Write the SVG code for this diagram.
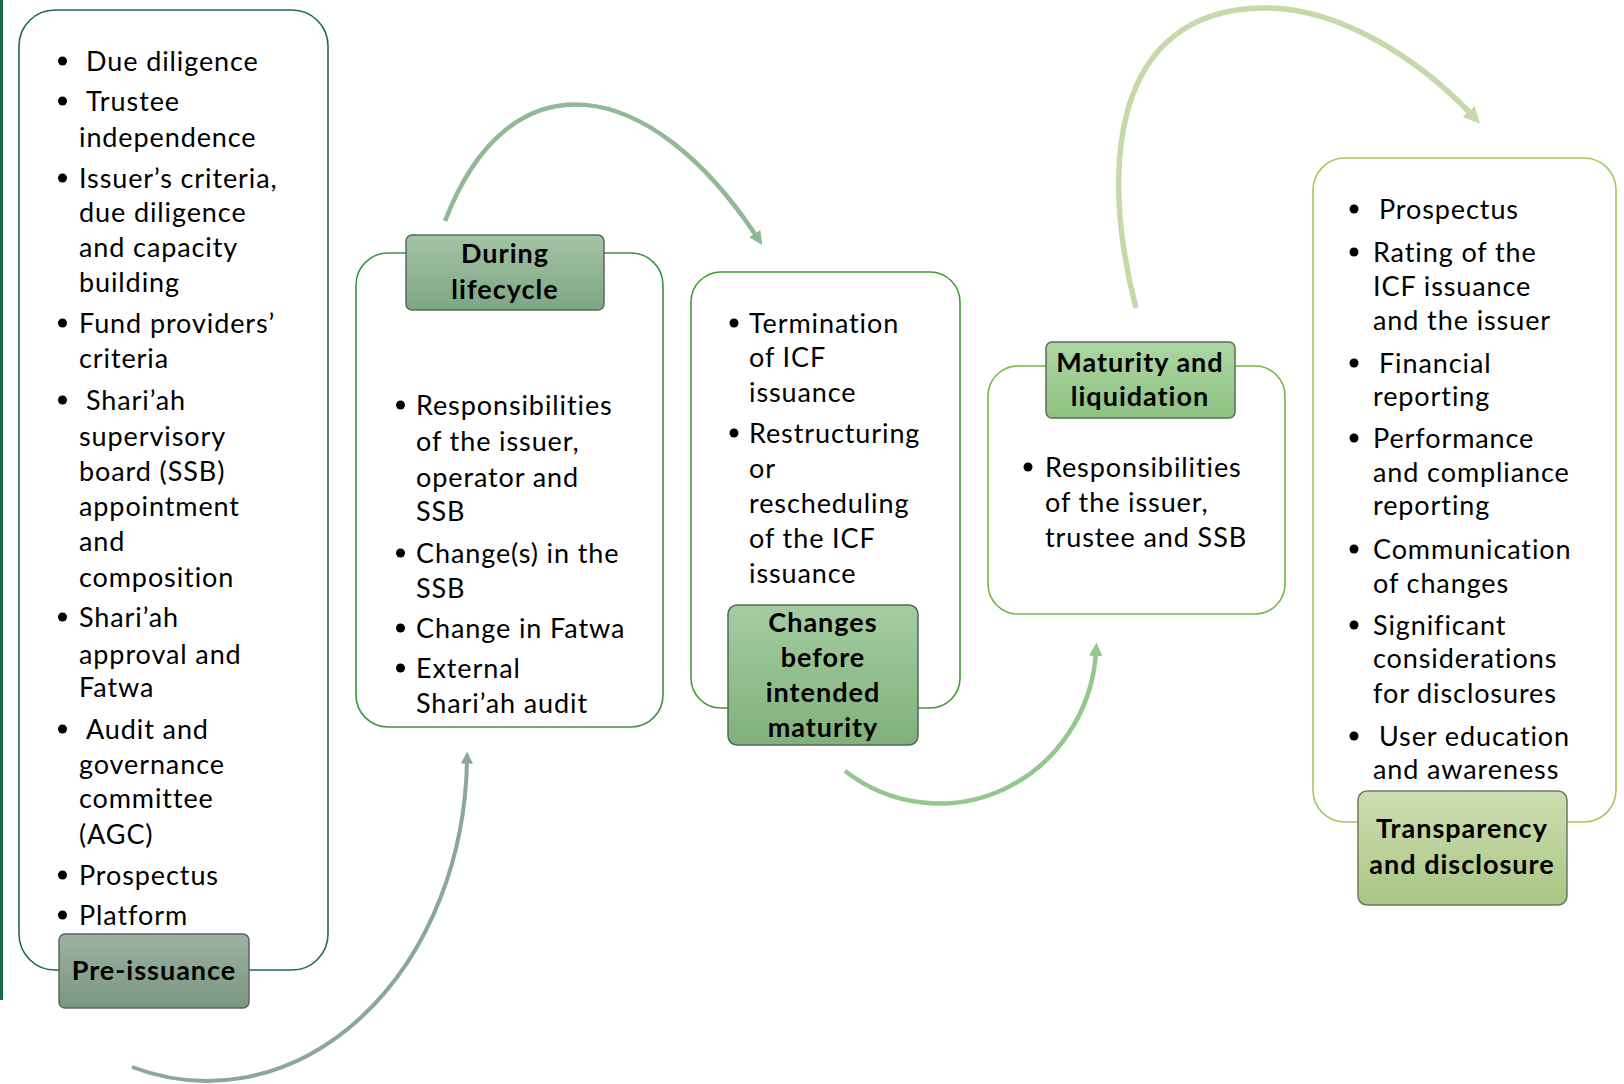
<svg xmlns="http://www.w3.org/2000/svg" width="1624" height="1084" viewBox="0 0 1624 1084">
  <style>
    .body { font-family: Lato, "Open Sans", "Liberation Sans", sans-serif; font-size: 27px; letter-spacing: 0.9px; fill: #000; }
    .lbl { font-family: Lato, "Open Sans", "Liberation Sans", sans-serif; font-size: 27px; letter-spacing: 1px; font-weight: bold; fill: #000; text-anchor: middle; }
    .box { fill: #fff; stroke-width: 1.6; }
    .tag { stroke-width: 1.5; }
    .dot { fill: #000; }
    .arc { fill: none; stroke-linecap: butt; }
  </style>
  <defs>
    <linearGradient id="gPre" x1="0" y1="0" x2="0" y2="1">
      <stop offset="0" stop-color="#9db1a2"/><stop offset="1" stop-color="#7a9682"/>
    </linearGradient>
    <linearGradient id="gDur" x1="0" y1="0" x2="0" y2="1">
      <stop offset="0" stop-color="#a3c3a5"/><stop offset="1" stop-color="#7ea684"/>
    </linearGradient>
    <linearGradient id="gChg" x1="0" y1="0" x2="0" y2="1">
      <stop offset="0" stop-color="#a5cca2"/><stop offset="1" stop-color="#7fb17b"/>
    </linearGradient>
    <linearGradient id="gMat" x1="0" y1="0" x2="0" y2="1">
      <stop offset="0" stop-color="#add6a2"/><stop offset="1" stop-color="#8dc282"/>
    </linearGradient>
    <linearGradient id="gTra" x1="0" y1="0" x2="0" y2="1">
      <stop offset="0" stop-color="#cfdeb2"/><stop offset="1" stop-color="#a8c583"/>
    </linearGradient>
    <marker id="m1" viewBox="0 0 10 10" refX="3" refY="5" markerWidth="3" markerHeight="3" orient="auto" markerUnits="strokeWidth">
      <path d="M0,0 L10,5 L0,10 z" fill="#8ba798"/>
    </marker>
    <marker id="m2" viewBox="0 0 10 10" refX="3" refY="5" markerWidth="3" markerHeight="3" orient="auto" markerUnits="strokeWidth">
      <path d="M0,0 L10,5 L0,10 z" fill="#90b996"/>
    </marker>
    <marker id="m3" viewBox="0 0 10 10" refX="3" refY="5" markerWidth="3" markerHeight="3" orient="auto" markerUnits="strokeWidth">
      <path d="M0,0 L10,5 L0,10 z" fill="#93c78c"/>
    </marker>
    <marker id="m4" viewBox="0 0 10 10" refX="3" refY="5" markerWidth="3" markerHeight="3" orient="auto" markerUnits="strokeWidth">
      <path d="M0,0 L10,5 L0,10 z" fill="#c5d9ab"/>
    </marker>
  </defs>

  <rect width="1624" height="1084" fill="#fff"/>
  <!-- left edge rule -->
  <rect x="0" y="0" width="3" height="1000" fill="#1a6b45"/>

  <!-- curved connectors between stages -->
  <g id="connectors">
    <path class="arc" d="M132,1067 A260,327 0 0 0 467,760" stroke="#8ba798" stroke-width="4" marker-end="url(#m1)"/>
    <path class="arc" d="M445,221 C510,52 650,75 757,237" stroke="#90b996" stroke-width="4.5" marker-end="url(#m2)"/>
    <path class="arc" d="M845,771 A157,162 0 0 0 1096,652" stroke="#93c78c" stroke-width="4.5" marker-end="url(#m3)"/>
    <path class="arc" d="M1136,308 C1100,170 1110,10 1263,8 C1340,7 1420,60 1472,115" stroke="#c5d9ab" stroke-width="5.5" marker-end="url(#m4)"/>
  </g>

  <!-- Stage 1 -->
  <g id="pre-issuance">
    <rect class="box" x="19" y="10" width="309" height="960" rx="36" stroke="#1d6b48"/>
    <g class="body">
      <text x="86" y="71">Due diligence</text>
      <text x="86" y="111">Trustee</text>
      <text x="79" y="147">independence</text>
      <text x="79" y="188">Issuer’s criteria,</text>
      <text x="79" y="222">due diligence</text>
      <text x="79" y="257">and capacity</text>
      <text x="79" y="292">building</text>
      <text x="79" y="333">Fund providers’</text>
      <text x="79" y="368">criteria</text>
      <text x="86" y="410">Shari’ah</text>
      <text x="79" y="446">supervisory</text>
      <text x="79" y="481">board (SSB)</text>
      <text x="79" y="516">appointment</text>
      <text x="79" y="551">and</text>
      <text x="79" y="587">composition</text>
      <text x="79" y="627">Shari’ah</text>
      <text x="79" y="664">approval and</text>
      <text x="79" y="697">Fatwa</text>
      <text x="86" y="739">Audit and</text>
      <text x="79" y="774">governance</text>
      <text x="79" y="808">committee</text>
      <text x="79" y="844">(AGC)</text>
      <text x="79" y="885">Prospectus</text>
      <text x="79" y="925">Platform</text>
    </g>
    <g class="dot">
      <circle cx="62.5" cy="61" r="4.5"/>
      <circle cx="62.5" cy="101" r="4.5"/>
      <circle cx="62.5" cy="178" r="4.5"/>
      <circle cx="62.5" cy="323" r="4.5"/>
      <circle cx="62.5" cy="400" r="4.5"/>
      <circle cx="62.5" cy="617" r="4.5"/>
      <circle cx="62.5" cy="729" r="4.5"/>
      <circle cx="62.5" cy="875" r="4.5"/>
      <circle cx="62.5" cy="915" r="4.5"/>
    </g>
    <rect class="tag" x="59" y="934" width="190" height="74" rx="6" fill="url(#gPre)" stroke="#5b665e"/>
    <text class="lbl" x="154" y="980">Pre-issuance</text>
  </g>

  <!-- Stage 2 -->
  <g id="during-lifecycle">
    <rect class="box" x="356" y="253" width="307" height="474" rx="32" stroke="#3d9245"/>
    <g class="body">
      <text x="416" y="415">Responsibilities</text>
      <text x="416" y="451">of the issuer,</text>
      <text x="416" y="487">operator and</text>
      <text x="416" y="521">SSB</text>
      <text x="416" y="563">Change(s) in the</text>
      <text x="416" y="598">SSB</text>
      <text x="416" y="638">Change in Fatwa</text>
      <text x="416" y="678">External</text>
      <text x="416" y="713">Shari’ah audit</text>
    </g>
    <g class="dot">
      <circle cx="400.5" cy="405" r="4.5"/>
      <circle cx="400.5" cy="553" r="4.5"/>
      <circle cx="400.5" cy="628" r="4.5"/>
      <circle cx="400.5" cy="668" r="4.5"/>
    </g>
    <rect class="tag" x="406" y="235" width="198" height="75" rx="6" fill="url(#gDur)" stroke="#5b685d"/>
    <text class="lbl" x="505" y="263">During</text>
    <text class="lbl" x="505" y="299">lifecycle</text>
  </g>

  <!-- Stage 3 -->
  <g id="changes-before-maturity">
    <rect class="box" x="691" y="272" width="269" height="436" rx="30" stroke="#3f9c2f"/>
    <g class="body">
      <text x="749" y="333">Termination</text>
      <text x="749" y="367">of ICF</text>
      <text x="749" y="402">issuance</text>
      <text x="749" y="443">Restructuring</text>
      <text x="749" y="478">or</text>
      <text x="749" y="513">rescheduling</text>
      <text x="749" y="548">of the ICF</text>
      <text x="749" y="583">issuance</text>
    </g>
    <g class="dot">
      <circle cx="734" cy="323" r="4.5"/>
      <circle cx="734" cy="433" r="4.5"/>
    </g>
    <rect class="tag" x="728" y="605" width="190" height="140" rx="9" fill="url(#gChg)" stroke="#55655a"/>
    <text class="lbl" x="823" y="632">Changes</text>
    <text class="lbl" x="823" y="667">before</text>
    <text class="lbl" x="823" y="702">intended</text>
    <text class="lbl" x="823" y="737">maturity</text>
  </g>

  <!-- Stage 4 -->
  <g id="maturity-liquidation">
    <rect class="box" x="988" y="366" width="297" height="248" rx="30" stroke="#74b548"/>
    <g class="body">
      <text x="1045" y="477">Responsibilities</text>
      <text x="1045" y="512">of the issuer,</text>
      <text x="1045" y="547">trustee and SSB</text>
    </g>
    <g class="dot">
      <circle cx="1028" cy="467" r="4.5"/>
    </g>
    <rect class="tag" x="1046" y="342" width="189" height="76" rx="6" fill="url(#gMat)" stroke="#5f6b5c"/>
    <text class="lbl" x="1140" y="372">Maturity and</text>
    <text class="lbl" x="1140" y="406">liquidation</text>
  </g>

  <!-- Stage 5 -->
  <g id="transparency-disclosure">
    <rect class="box" x="1313" y="158" width="303" height="664" rx="32" stroke="#a2c85e"/>
    <g class="body">
      <text x="1379" y="219">Prospectus</text>
      <text x="1373" y="262">Rating of the</text>
      <text x="1373" y="296">ICF issuance</text>
      <text x="1373" y="330">and the issuer</text>
      <text x="1379" y="373">Financial</text>
      <text x="1373" y="406">reporting</text>
      <text x="1373" y="448">Performance</text>
      <text x="1373" y="482">and compliance</text>
      <text x="1373" y="515">reporting</text>
      <text x="1373" y="559">Communication</text>
      <text x="1373" y="593">of changes</text>
      <text x="1373" y="635">Significant</text>
      <text x="1373" y="668">considerations</text>
      <text x="1373" y="703">for disclosures</text>
      <text x="1379" y="746">User education</text>
      <text x="1373" y="779">and awareness</text>
    </g>
    <g class="dot">
      <circle cx="1354" cy="209" r="4.5"/>
      <circle cx="1354" cy="252" r="4.5"/>
      <circle cx="1354" cy="363" r="4.5"/>
      <circle cx="1354" cy="438" r="4.5"/>
      <circle cx="1354" cy="549" r="4.5"/>
      <circle cx="1354" cy="625" r="4.5"/>
      <circle cx="1354" cy="736" r="4.5"/>
    </g>
    <rect class="tag" x="1358" y="791" width="209" height="114" rx="9" fill="url(#gTra)" stroke="#6d7a62"/>
    <text class="lbl" x="1462" y="838">Transparency</text>
    <text class="lbl" x="1462" y="874">and disclosure</text>
  </g>
</svg>
